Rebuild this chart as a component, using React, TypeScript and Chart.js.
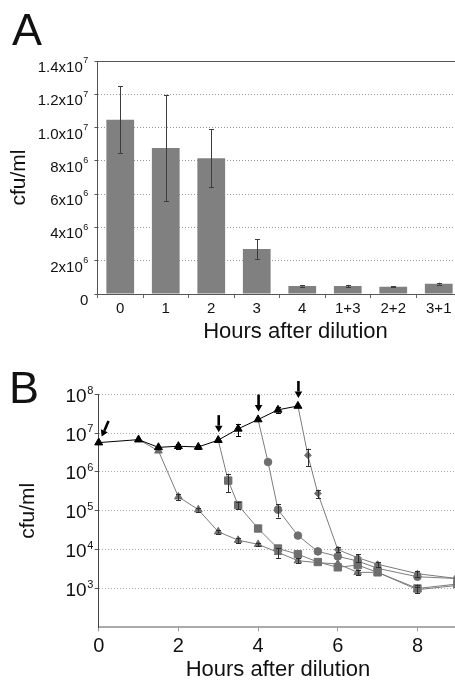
import React, { useEffect, useRef } from 'react';
import { Chart, registerables } from 'chart.js';

Chart.register(...registerables);

const FONT = "'Liberation Sans', Arial, Helvetica, sans-serif";

// ---------- Panel A data ----------
const categoriesA = ['0', '1', '2', '3', '4', '1+3', '2+2', '3+1'];
const cfuA = [1.047e7, 8.77e6, 8.15e6, 2.7e6, 4.8e5, 4.8e5, 4.4e5, 6.2e5];
const errA = [2.0e6, 3.2e6, 1.75e6, 5.8e5, 4e4, 7e4, 3e4, 6e4];
const yTickValuesA = [0, 2e6, 4e6, 6e6, 8e6, 1e7, 1.2e7, 1.4e7];
const yTickLabelsA = ['0', '2x10⁶', '4x10⁶', '6x10⁶', '8x10⁶', '1.0x10⁷', '1.2x10⁷', '1.4x10⁷'];

// ---------- Panel B data ----------
const hoursBlack = [0, 1, 1.5, 2, 2.5, 3, 3.5, 4, 4.5, 5];
const cfuBlack = [5.7e6, 6.8e6, 4.3e6, 4.6e6, 4.4e6, 6.6e6, 1.29e7, 2.24e7, 3.98e7, 5.0e7];
const errBlack = [0, 0, 0, 8e5, 6e5, 0, 4.5e6, 0, 6e6, 0];

const hoursTri = [1, 1.5, 2, 2.5, 3, 3.5, 4, 4.5, 5, 5.5, 6, 6.5, 7, 8, 9];
const cfuTri = [6.8e6, 3.5e6, 2.3e5, 1.07e5, 2.9e4, 1.75e4, 1.37e4, 8.5e3, 5.2e3, 4.6e3, 4.3e3, 2.6e3, 2.6e3, 9.3e2, 1.2e3];
const errTri = [0, 0, 4e4, 1.2e4, 3e3, 3e3, 1.5e3, 2.5e3, 8e2, 0, 0, 4e2, 0, 1.5e2, 0];

const hoursSquare = [3, 3.25, 3.5, 4, 4.5, 5, 5.5, 6, 6.5, 7, 8, 9];
const cfuSquare = [6.6e6, 6e5, 1.4e5, 3.5e4, 1.07e4, 7.6e3, 4.8e3, 3.5e3, 4.0e3, 2.6e3, 1.0e3, 1.3e3];
const errSquare = [0, 3e5, 3e4, 0, 0, 0, 0, 0, 0, 0, 2.5e2, 0];

const hoursCircle = [4, 4.25, 4.5, 5, 5.5, 6, 6.5, 7, 8, 9];
const cfuCircle = [2.24e7, 1.8e6, 1.07e5, 2.3e4, 9e3, 6.7e3, 5.1e3, 3.3e3, 2.0e3, 1.8e3];
const errCircle = [0, 0, 4e4, 0, 0, 0, 0, 0, 0, 0];

const hoursDiamond = [5, 5.25, 5.5, 6, 6.5, 7, 8, 9];
const cfuDiamond = [5.0e7, 2.7e6, 2.8e5, 1.0e4, 6.2e3, 4.2e3, 2.4e3, 1.8e3];
const errDiamond = [0, 1.3e6, 7e4, 1.5e3, 1.5e3, 6e2, 4e2, 0];

const arrowHours = [0, 3, 4, 5];
const xTickValuesB = [0, 2, 4, 6, 8];
const yTickValuesB = [1e2, 1e3, 1e4, 1e5, 1e6, 1e7, 1e8];
const yTickLabelsB = ['', '10³', '10⁴', '10⁵', '10⁶', '10⁷', '10⁸'];

const toPoints = (xs: number[], ys: number[]) => xs.map((x, i) => ({ x, y: ys[i] }));

const SUP = '⁰¹²³⁴⁵⁶⁷⁸⁹';

// ---------- plugins ----------
const errorBarPlugin = {
  id: 'errorBars',
  afterDatasetsDraw(chart: any) {
    const { ctx } = chart;
    const yScale = chart.scales.y;
    chart.data.datasets.forEach((ds: any, di: number) => {
      const errs = ds.errors;
      if (!errs) return;
      const meta = chart.getDatasetMeta(di);
      meta.data.forEach((el: any, i: number) => {
        const e = errs[i];
        if (!e) return;
        const raw = ds.data[i];
        const v = typeof raw === 'number' ? raw : raw.y;
        const yTop = yScale.getPixelForValue(v + e);
        const yBot = yScale.getPixelForValue(Math.max(v - e, yScale.min));
        const x = Math.round(el.x) + 0.5;
        const c = ds.capHalf ?? 2.5;
        ctx.save();
        ctx.strokeStyle = ds.errorColor || '#333';
        ctx.lineWidth = 1;
        ctx.beginPath();
        ctx.moveTo(x, yTop);
        ctx.lineTo(x, yBot);
        ctx.moveTo(x - c, Math.round(yTop) + 0.5);
        ctx.lineTo(x + c, Math.round(yTop) + 0.5);
        ctx.moveTo(x - c, Math.round(yBot) + 0.5);
        ctx.lineTo(x + c, Math.round(yBot) + 0.5);
        ctx.stroke();
        ctx.restore();
      });
    });
  },
};

const topBorderPlugin = {
  id: 'topBorder',
  afterDraw(chart: any, _args: any, opts: any) {
    if (!opts || !opts.display) return;
    const { ctx, chartArea } = chart;
    const y = Math.round(chartArea.top) + 0.5;
    ctx.save();
    ctx.strokeStyle = opts.color || '#555';
    ctx.lineWidth = 1;
    ctx.beginPath();
    ctx.moveTo(chartArea.left, y);
    ctx.lineTo(chartArea.right, y);
    ctx.stroke();
    ctx.restore();
  },
};

const offsetTitlePlugin = {
  id: 'offsetTitle',
  afterDraw(chart: any, _args: any, opts: any) {
    if (!opts || !opts.display) return;
    const { ctx } = chart;
    const t = chart.options.scales.x.title;
    ctx.save();
    ctx.fillStyle = opts.color || '#111';
    ctx.font = `${opts.size}px ${FONT}`;
    ctx.textAlign = 'center';
    ctx.textBaseline = 'alphabetic';
    ctx.fillText(t.text, opts.x, opts.y);
    ctx.restore();
  },
};

// Draws the y tick labels (taken from the scale's own ticks) with a real raised exponent
const supLabelPlugin = {
  id: 'supLabels',
  afterDraw(chart: any, _args: any, opts: any) {
    if (!opts || !opts.display) return;
    const { ctx } = chart;
    const scale = chart.scales.y;
    const xRight = scale.right - opts.gap;
    ctx.save();
    ctx.fillStyle = opts.color || '#111';
    ctx.textBaseline = 'alphabetic';
    ctx.textAlign = 'left';
    scale.ticks.forEach((t: any, i: number) => {
      const label: string = String(t.label ?? '');
      if (!label) return;
      let base = '';
      let exp = '';
      for (const ch of label) {
        const k = SUP.indexOf(ch);
        if (k >= 0) exp += String(k);
        else base += ch;
      }
      const y = scale.getPixelForTick(i) + opts.baselineOffset;
      ctx.font = `${opts.expSize}px ${FONT}`;
      const ew = exp ? ctx.measureText(exp).width : 0;
      ctx.font = `${opts.baseSize}px ${FONT}`;
      const bw = ctx.measureText(base).width;
      const gap = exp ? opts.expGap : 0;
      const bx = xRight - ew - gap - bw;
      ctx.fillText(base, bx, y);
      if (exp) {
        ctx.font = `${opts.expSize}px ${FONT}`;
        ctx.fillText(exp, xRight - ew, y - opts.expRise);
      }
    });
    ctx.restore();
  },
};

const arrowPlugin = {
  id: 'arrows',
  afterDatasetsDraw(chart: any, _args: any, opts: any) {
    if (!opts || !opts.hours) return;
    const { ctx } = chart;
    const xs = chart.scales.x;
    const ys = chart.scales.y;
    opts.hours.forEach((h: number, k: number) => {
      const idx = hoursBlack.indexOf(h);
      if (idx < 0) return;
      const px = xs.getPixelForValue(h);
      const py = ys.getPixelForValue(cfuBlack[idx]);
      const tilt = opts.tilt ? opts.tilt[k] : 0;
      const len = 17;
      const dx = tilt, dy = 1;
      const n = Math.hypot(dx, dy);
      const ux = dx / n, uy = dy / n;
      const tipX = px + (tilt ? 3 : 0.5);
      const tipY = py - (tilt ? 6 : 8);
      const tailX = tipX - ux * len;
      const tailY = tipY - uy * len;
      const headL = 6.5, headW = 3.8;
      const baseX = tipX - ux * headL, baseY = tipY - uy * headL;
      ctx.save();
      ctx.strokeStyle = '#000';
      ctx.fillStyle = '#000';
      ctx.lineWidth = 2.6;
      ctx.beginPath();
      ctx.moveTo(tailX, tailY);
      ctx.lineTo(baseX, baseY);
      ctx.stroke();
      ctx.beginPath();
      ctx.moveTo(tipX, tipY);
      ctx.lineTo(baseX - uy * headW, baseY + ux * headW);
      ctx.lineTo(baseX + uy * headW, baseY - ux * headW);
      ctx.closePath();
      ctx.fill();
      ctx.restore();
    });
  },
};

const GRAY_LINE = '#7c7c7c';
const GRAY_MARK = '#6e6e6e';
const CLEAR = 'rgba(0,0,0,0)';

function PanelA() {
  const ref = useRef<HTMLCanvasElement>(null);
  useEffect(() => {
    if (!ref.current) return;
    const chart = new Chart(ref.current, {
      type: 'bar',
      data: {
        labels: categoriesA,
        datasets: [
          {
            data: cfuA,
            errors: errA,
            errorColor: '#3c3c3c',
            capHalf: 2.5,
            backgroundColor: '#808080',
            borderWidth: 0,
            barPercentage: 0.61,
            categoryPercentage: 1,
          } as any,
        ],
      },
      options: {
        responsive: false,
        maintainAspectRatio: false,
        animation: false,
        layout: { padding: { top: 61, right: 8.5, left: 0, bottom: 0 } },
        plugins: {
          legend: { display: false },
          tooltip: { enabled: false },
          topBorder: { display: true, color: '#555' },
          offsetTitle: { display: true, x: 295.5, y: 338, size: 22, color: '#111' },
          supLabels: {
            display: true,
            gap: 9.2,
            baselineOffset: 11,
            baseSize: 15,
            expSize: 9,
            expRise: 8.7,
            expGap: 0.5,
            color: '#111',
          },
        } as any,
        scales: {
          x: {
            type: 'category',
            grid: { drawOnChartArea: false, offset: true, tickLength: 4, tickColor: '#666' },
            border: { color: '#555', width: 1 },
            ticks: { color: '#111', font: { family: FONT, size: 15 }, padding: 2, maxRotation: 0 },
            title: { display: false, text: 'Hours after dilution' },
            afterFit: (s: any) => {
              s.height = 46;
            },
          },
          y: {
            min: 0,
            max: 1.4e7,
            afterBuildTicks: (s: any) => {
              s.ticks = yTickValuesA.map((v) => ({ value: v }));
            },
            ticks: {
              callback: (_v: any, i: number) => yTickLabelsA[i],
              color: CLEAR,
              font: { family: FONT, size: 15 },
              padding: 6,
            },
            grid: {
              color: (c: any) =>
                c.tick && (c.tick.value === 0 || c.tick.value === 1.4e7) ? CLEAR : '#9a9a9a',
              tickColor: '#555',
              tickLength: 3,
            },
            border: { color: '#555', width: 1, dash: [1, 2] },
            title: {
              display: true,
              text: 'cfu/ml',
              color: '#111',
              font: { family: FONT, size: 21 },
              padding: { top: 7, bottom: 0 },
            },
            afterFit: (s: any) => {
              s.width = 97.5;
            },
          },
        } as any,
      },
      plugins: [errorBarPlugin, topBorderPlugin, offsetTitlePlugin, supLabelPlugin],
    } as any);
    return () => chart.destroy();
  }, []);
  return <canvas ref={ref} width={470} height={340} style={{ position: 'absolute', left: 0, top: 0, display: 'block' }} />;
}

function PanelB() {
  const ref = useRef<HTMLCanvasElement>(null);
  useEffect(() => {
    if (!ref.current) return;
    const grayCommon = {
      borderColor: GRAY_LINE,
      backgroundColor: GRAY_MARK,
      pointBorderColor: GRAY_MARK,
      borderWidth: 1,
      pointBorderWidth: 1,
      tension: 0,
      clip: false,
      errorColor: '#2e2e2e',
      capHalf: 2.5,
    };
    const firstHidden = (r: number) => (c: any) => (c.dataIndex === 0 ? 0 : r);
    const chart = new Chart(ref.current, {
      type: 'line',
      data: {
        datasets: [
          {
            label: 'undiluted',
            data: toPoints(hoursBlack, cfuBlack),
            errors: errBlack,
            errorColor: '#000',
            capHalf: 2.5,
            borderColor: '#000',
            backgroundColor: '#000',
            pointBorderColor: '#000',
            pointStyle: 'triangle',
            pointRadius: 4.6,
            borderWidth: 1,
            pointBorderWidth: 1,
            tension: 0,
            clip: false,
          },
          {
            ...grayCommon,
            label: 'triangle',
            data: toPoints(hoursTri, cfuTri),
            errors: errTri,
            pointStyle: 'triangle',
            pointRadius: firstHidden(4.4),
          },
          {
            ...grayCommon,
            label: 'square',
            data: toPoints(hoursSquare, cfuSquare),
            errors: errSquare,
            pointStyle: 'rect',
            pointRadius: firstHidden(5.2),
          },
          {
            ...grayCommon,
            label: 'circle',
            data: toPoints(hoursCircle, cfuCircle),
            errors: errCircle,
            pointStyle: 'circle',
            pointRadius: firstHidden(3.8),
          },
          {
            ...grayCommon,
            label: 'diamond',
            data: toPoints(hoursDiamond, cfuDiamond),
            errors: errDiamond,
            pointStyle: 'rectRot',
            pointRadius: firstHidden(3.4),
          },
        ] as any,
      },
      options: {
        responsive: false,
        maintainAspectRatio: false,
        animation: false,
        layout: { padding: { top: 54.3, right: 12.7, left: 0, bottom: 0 } },
        plugins: {
          legend: { display: false },
          tooltip: { enabled: false },
          arrows: { hours: arrowHours, tilt: [-0.44, 0, 0, 0] },
          supLabels: {
            display: true,
            gap: 5.4,
            baselineOffset: 7.5,
            baseSize: 19,
            expSize: 11,
            expRise: 8.2,
            expGap: 0.5,
            color: '#111',
          },
        } as any,
        scales: {
          x: {
            type: 'linear',
            min: 0,
            max: 9,
            afterBuildTicks: (s: any) => {
              s.ticks = xTickValuesB.map((v) => ({ value: v }));
            },
            ticks: { color: '#111', font: { family: FONT, size: 20 }, padding: 3, maxRotation: 0 },
            grid: { drawOnChartArea: false, tickLength: 4, tickColor: '#999' },
            border: { color: '#aaaaaa', width: 2 },
            title: {
              display: true,
              text: 'Hours after dilution',
              color: '#111',
              font: { family: FONT, size: 22 },
              padding: { top: 0, bottom: 0 },
            },
            afterFit: (s: any) => {
              s.height = 55.7;
            },
          },
          y: {
            type: 'logarithmic',
            min: 1e2,
            max: 1e8,
            afterBuildTicks: (s: any) => {
              s.ticks = yTickValuesB.map((v) => ({ value: v }));
            },
            ticks: {
              callback: (_v: any, i: number) => yTickLabelsB[i],
              color: CLEAR,
              font: { family: FONT, size: 19 },
              padding: 2,
            },
            grid: {
              color: (c: any) => (c.tick && c.tick.value === 1e2 ? CLEAR : '#a8a8a8'),
              tickColor: (c: any) => (c.tick && c.tick.value === 1e2 ? CLEAR : '#555'),
              tickLength: 4,
            },
            border: { color: '#444', width: 1, dash: [1, 2] },
            title: {
              display: true,
              text: 'cfu/ml',
              color: '#111',
              font: { family: FONT, size: 21 },
              padding: { top: 16, bottom: 0 },
            },
            afterFit: (s: any) => {
              s.width = 98.7;
            },
          },
        } as any,
      },
      plugins: [errorBarPlugin, arrowPlugin, supLabelPlugin],
    } as any);
    return () => chart.destroy();
  }, []);
  return <canvas ref={ref} width={470} height={343} style={{ position: 'absolute', left: 0, top: 340, display: 'block' }} />;
}

const letterStyle: React.CSSProperties = {
  position: 'absolute',
  fontFamily: FONT,
  fontSize: 45,
  lineHeight: '45px',
  color: '#111',
  margin: 0,
};

export default function App() {
  return (
    <div
      style={{
        position: 'absolute',
        left: 0,
        top: 0,
        width: 455,
        height: 683,
        overflow: 'hidden',
        background: '#fff',
      }}
    >
      <PanelA />
      <PanelB />
      <div style={{ ...letterStyle, left: 12, top: 7 }}>A</div>
      <div style={{ ...letterStyle, left: 9, top: 365 }}>B</div>
    </div>
  );
}
